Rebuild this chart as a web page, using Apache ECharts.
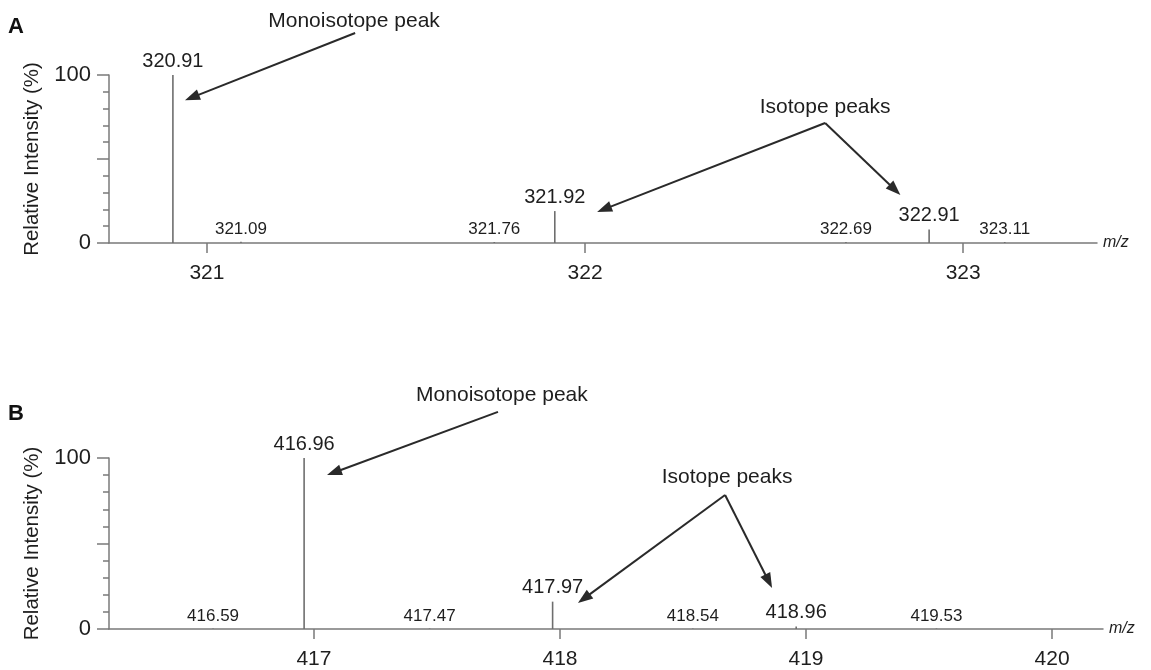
<!DOCTYPE html>
<html><head><meta charset="utf-8">
<script src="https://cdn.jsdelivr.net/npm/echarts@6/dist/echarts.min.js"></script>
<style>html,body{margin:0;padding:0;background:#fff}#c{width:1151px;height:670px}</style>
</head><body><div id="c"></div>
<script>
// ---- Data ----
const mzA  = [320.91, 321.09, 321.76, 321.92, 322.69, 322.91, 323.11];
const intA = [100, 0.8, 0.6, 19, 0.6, 8, 0.6];
const isoA = [1, 0, 0, 1, 0, 1, 0];      // 1 = member of the isotope cluster
const ticksA = [321, 322, 323];

const mzB  = [416.59, 416.96, 417.47, 417.97, 418.54, 418.96, 419.53];
const intB = [0.3, 100, 0.3, 16, 0.3, 1.5, 0.3];
const isoB = [0, 1, 0, 1, 0, 1, 0];
const ticksB = [417, 418, 419, 420];

const yLabels = [0, 100];
const panelNames = ['A', 'B'];
const yTitle = 'Relative Intensity (%)';
const xTitle = 'm/z';
const annoText = ['Monoisotope peak', 'Isotope peaks'];

// annotation anchors, in data units (m/z, %)
const monoTextA = [321.389, 132];  const monoArrowA = [[321.392, 125], [320.942, 85]];
const isoTextA  = [322.635, 81];   const isoArrowsA = [[[322.635, 71.4], [322.032, 18.5]], [[322.635, 71.4], [322.834, 28.6]]];
const monoTextB = [417.764, 137];  const monoArrowB = [[417.748, 127], [417.053, 90]];
const isoTextB  = [418.679, 89];   const isoArrowsB = [[[418.671, 78.4], [418.073, 15.2]], [[418.671, 78.4], [418.862, 24.0]]];

// ---- Chart ----
const FONT = '"Liberation Sans", Arial, Helvetica, sans-serif';
const AX = '#7a7a7a', TXT = '#1e1e1e';
const chart = echarts.init(document.getElementById('c'), null, {renderer: 'canvas'});

function toData(mz, inten, iso) { return mz.map((m, i) => [m, inten[i], iso[i]]); }

function renderPeak(params, api) {
  const x = api.value(0), y = api.value(1), iso = api.value(2);
  const p0 = api.coord([x, 0]), p1 = api.coord([x, y]);
  return {
    type: 'group',
    children: [
      {type: 'line', shape: {x1: p0[0], y1: p0[1], x2: p1[0], y2: p1[1]},
       style: {stroke: '#6e6e6e', lineWidth: 1.6}},
      {type: 'text', x: p1[0], y: p1[1] - 4,
       style: {text: x.toFixed(2), fill: TXT, font: (iso ? '20px ' : '17px ') + FONT,
               align: 'center', verticalAlign: 'bottom'}}
    ]
  };
}

function xAxisCfg(gi, min, max, ticks, margin) {
  return {
    type: 'value', gridIndex: gi, min: min, max: max,
    axisLine: {lineStyle: {color: AX, width: 1.5}},
    axisTick: {customValues: ticks, length: 10, lineStyle: {color: AX, width: 1.5}},
    axisLabel: {customValues: ticks, fontSize: 21, color: TXT, fontFamily: FONT, margin: margin},
    splitLine: {show: false},
    name: xTitle, nameLocation: 'end', nameGap: 6,
    nameTextStyle: {fontStyle: 'italic', fontSize: 16, color: TXT, fontFamily: FONT}
  };
}
function yAxisCfg(gi) {
  return {
    type: 'value', gridIndex: gi, min: 0, max: 100, interval: 50,
    axisLine: {show: true, lineStyle: {color: AX, width: 1.5}},
    axisTick: {show: true, length: 12, lineStyle: {color: AX, width: 1.5}},
    minorTick: {show: true, splitNumber: 5, length: 6, lineStyle: {color: AX, width: 1.5}},
    axisLabel: {customValues: yLabels, fontSize: 22, color: TXT, fontFamily: FONT, margin: 18},
    splitLine: {show: false},
    name: yTitle, nameLocation: 'middle', nameGap: 66,
    nameTextStyle: {fontSize: 20.5, color: TXT, fontFamily: FONT}
  };
}

chart.setOption({
  animation: false,
  backgroundColor: '#fff',
  grid: [
    {left: 109, right: 54, top: 75, height: 168},
    {left: 109, right: 48, top: 458, height: 171}
  ],
  xAxis: [xAxisCfg(0, 320.741, 323.354, ticksA, 20), xAxisCfg(1, 416.167, 420.207, ticksB, 20)],
  yAxis: [yAxisCfg(0), yAxisCfg(1)],
  series: [
    {type: 'custom', xAxisIndex: 0, yAxisIndex: 0, data: toData(mzA, intA, isoA), renderItem: renderPeak, clip: false},
    {type: 'custom', xAxisIndex: 1, yAxisIndex: 1, data: toData(mzB, intB, isoB), renderItem: renderPeak, clip: false}
  ]
});

// ---- Annotations (arrows + text) placed via the axes' scales ----
function px(gi, p) { return chart.convertToPixel({gridIndex: gi}, p); }
function arrow(gi, from, to) {
  const a = px(gi, from), b = px(gi, to);
  const dx = b[0] - a[0], dy = b[1] - a[1], L = Math.hypot(dx, dy);
  const ux = dx / L, uy = dy / L, nx = -uy, ny = ux;
  const hl = 15, hw = 5.5;
  const bx = b[0] - ux * hl, by = b[1] - uy * hl;
  return [
    {type: 'line', shape: {x1: a[0], y1: a[1], x2: b[0] - ux * hl * 0.6, y2: b[1] - uy * hl * 0.6},
     style: {stroke: '#2a2a2a', lineWidth: 2}},
    {type: 'polygon', shape: {points: [[b[0], b[1]], [bx + nx * hw, by + ny * hw], [bx - nx * hw, by - ny * hw]]},
     style: {fill: '#2a2a2a'}}
  ];
}
function label(gi, p, text) {
  const q = px(gi, p);
  return {type: 'text', x: q[0], y: q[1],
          style: {text: text, fill: TXT, font: '21px ' + FONT, align: 'center', verticalAlign: 'middle'}};
}
const g = [];
g.push(...arrow(0, monoArrowA[0], monoArrowA[1]));
isoArrowsA.forEach(a => g.push(...arrow(0, a[0], a[1])));
g.push(...arrow(1, monoArrowB[0], monoArrowB[1]));
isoArrowsB.forEach(a => g.push(...arrow(1, a[0], a[1])));
g.push(label(0, monoTextA, annoText[0]), label(0, isoTextA, annoText[1]));
g.push(label(1, monoTextB, annoText[0]), label(1, isoTextB, annoText[1]));
g.push({type: 'text', left: 8, top: 16, style: {text: panelNames[0], fill: '#111', font: 'bold 22px ' + FONT}});
g.push({type: 'text', left: 8, top: 403, style: {text: panelNames[1], fill: '#111', font: 'bold 22px ' + FONT}});
chart.setOption({graphic: g});
</script>
</body></html>
